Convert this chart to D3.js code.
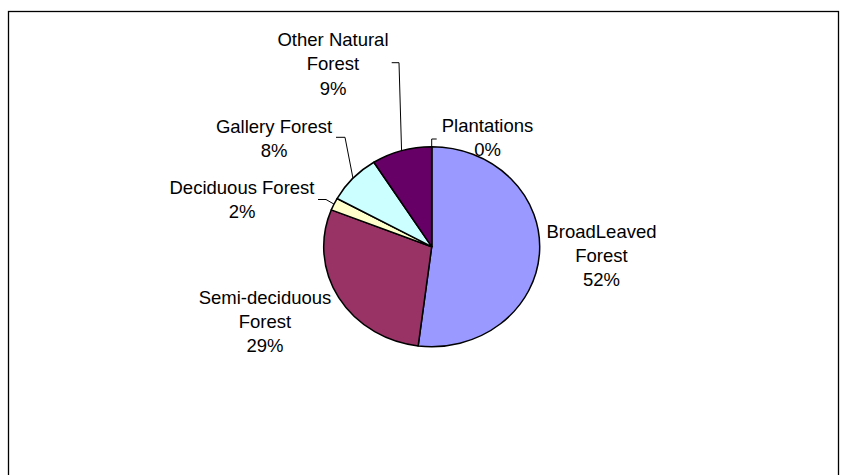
<!DOCTYPE html>
<html>
<head>
<meta charset="utf-8">
<script src="https://cdn.jsdelivr.net/npm/d3@7"></script>
<style>
  html, body { margin: 0; padding: 0; background: #fff; }
  svg { display: block; }
  text { font-family: "Liberation Sans", Arial, sans-serif; font-size: 18.5px; fill: #000; }
</style>
</head>
<body>
<svg id="chart" width="844" height="475"></svg>
<script>
// Forest cover by type, share of total area (%)
const categories = ["BroadLeaved Forest", "Semi-deciduous Forest", "Deciduous Forest", "Gallery Forest", "Other Natural Forest", "Plantations"];
const values = [52, 29, 2, 8, 9, 0];
const colors = ["#9999FF", "#993366", "#FFFFCC", "#CCFFFF", "#660066", "#FF8080"];
// Label text lines per slice (category name wrapped, then percentage)
const labelLines = [
  ["BroadLeaved", "Forest"],
  ["Semi-deciduous", "Forest"],
  ["Deciduous Forest"],
  ["Gallery Forest"],
  ["Other Natural", "Forest"],
  ["Plantations"]
];

const svg = d3.select("#chart");

// chart area frame
svg.append("rect")
  .attr("x", 8.5).attr("y", 11.5)
  .attr("width", 830).attr("height", 480)
  .attr("fill", "#fff").attr("stroke", "#000").attr("stroke-width", 1.3);

const cx = 431.7, cy = 246.7, r = 100, stretchX = 1.08;

const pie = d3.pie().sort(null).value(d => d)(values);
const arc = d3.arc().innerRadius(0).outerRadius(r);

const pieG = svg.append("g")
  .attr("transform", `translate(${cx},${cy}) scale(${stretchX},1)`);

pieG.selectAll("path")
  .data(pie)
  .join("path")
  .attr("d", arc)
  .attr("fill", (d, i) => colors[i])
  .attr("stroke", "#000")
  .attr("stroke-width", 1.5)
  .attr("stroke-linejoin", "round")
  .attr("vector-effect", "non-scaling-stroke");

// label anchor positions (centre x, centre y of first line)
const labelPos = [
  [601.5, 231],
  [265, 297],
  [242, 187],
  [274, 126],
  [333, 39.5],
  [487.5, 125]
];
const lineH = 24.2;
const fmt = v => Math.round(v) + "%";

const labels = svg.append("g");
categories.forEach((c, i) => {
  const lines = labelLines[i].concat([fmt(values[i])]);
  const t = labels.append("text")
    .attr("text-anchor", "middle")
    .attr("x", labelPos[i][0]);
  lines.forEach((s, k) => {
    t.append("tspan")
      .attr("x", labelPos[i][0])
      .attr("y", labelPos[i][1] + 6.6 + k * lineH)
      .text(s);
  });
});

// leader lines from labels to the middle of each slice's rim
const leader = d3.line();
function rimMid(i) {
  const d = pie[i];
  const a = (d.startAngle + d.endAngle) / 2;
  return [cx + stretchX * r * Math.sin(a), cy - r * Math.cos(a)];
}
const leaders = [
  { i: 4, pts: [[391.7, 62.7], [399, 62.7]] },
  { i: 3, pts: [[336, 137.3], [345, 137.3]] },
  { i: 2, pts: [[318, 199.5], [326, 199.5]] },
  { i: 5, pts: [[436.7, 139], [431.7, 139]] }
];
svg.append("g").selectAll("path")
  .data(leaders)
  .join("path")
  .attr("d", d => leader(d.pts.concat([rimMid(d.i)])))
  .attr("fill", "none")
  .attr("stroke", "#000")
  .attr("stroke-width", 1);
</script>
</body>
</html>
